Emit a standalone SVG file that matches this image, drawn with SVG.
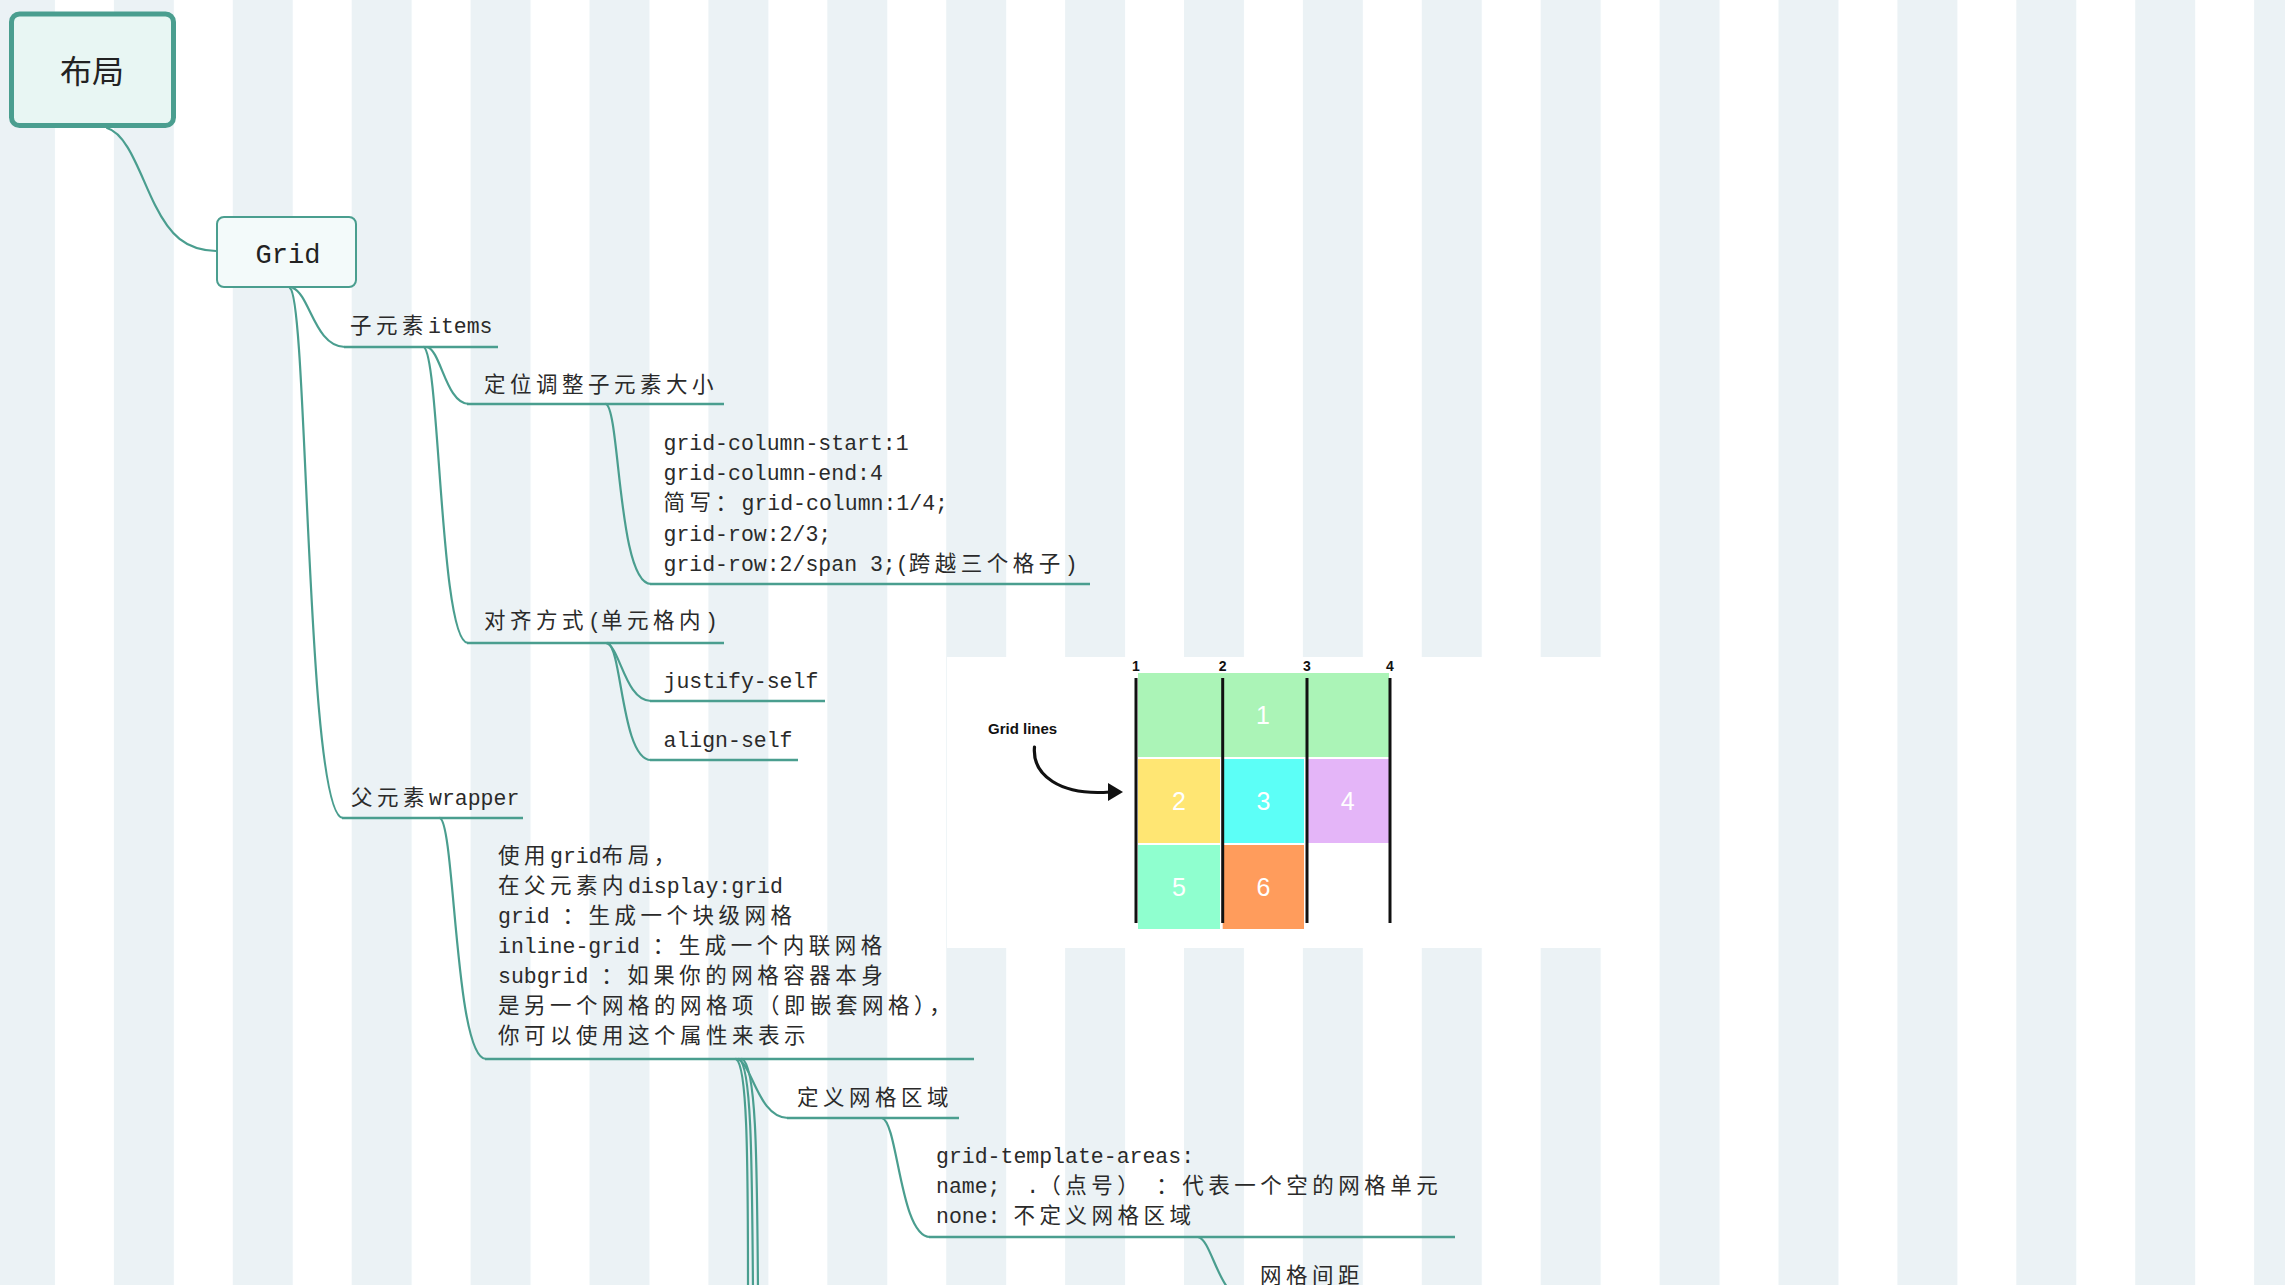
<svg xmlns="http://www.w3.org/2000/svg" width="2285" height="1285" viewBox="0 0 2285 1285">
<defs>
<pattern id="stripes" x="-5" y="0" width="118.9" height="1285" patternUnits="userSpaceOnUse">
<rect x="0" y="0" width="60" height="1285" fill="#ebf2f5"/>
</pattern>
<style>
.t{font-family:"Liberation Mono","Noto Sans CJK SC",monospace;font-size:21.5px;fill:#2a2a2a}
.c{letter-spacing:4.5px}
.ln{fill:none;stroke:#4a9e8f;stroke-width:2.2;stroke-linecap:round}
.ul{fill:none;stroke:#4a9e8f;stroke-width:2.5}
.gl{fill:none;stroke:#111;stroke-width:3}
.num{font-family:"Liberation Sans",Arial,sans-serif;font-weight:bold;font-size:14px;fill:#111;text-anchor:middle}
.cell{font-family:"Liberation Sans",Arial,sans-serif;font-size:25px;fill:#fff;text-anchor:middle}
</style>
</defs>
<rect width="2285" height="1285" fill="#ffffff"/>
<rect width="2285" height="1285" fill="url(#stripes)"/>

<g id="connectors">
<path class="ln" d="M107,128 C128,134 140,175 155,205 C170,235 185,250 216,251"/>
<path class="ln" d="M293,288 C310,295 315,347 345,347"/>
<path class="ln" d="M290,288 C308,300 306,818 343,818"/>
<path class="ln" d="M427,347 C441,350 446,404 469,404"/>
<path class="ln" d="M424,347 C440,360 440,643 468,643"/>
<path class="ln" d="M606,404 C620,410 618,584 651,584"/>
<path class="ln" d="M606,643 C620,646 625,701 651,701"/>
<path class="ln" d="M608,643 C622,650 622,760 651,760"/>
<path class="ln" d="M440,818 C455,825 455,1059 486,1059"/>
<path class="ln" d="M737,1059 C752,1062 758,1118 788,1118"/>
<path class="ln" d="M736,1059 C747,1065 748,1150 748,1292"/>
<path class="ln" d="M739,1059 C751,1065 752,1150 753,1292"/>
<path class="ln" d="M742,1059 C756,1065 757,1150 758,1292"/>
<path class="ln" d="M882,1118 C898,1122 900,1237 930,1237"/>
<path class="ln" d="M1198,1237 C1213,1240 1218,1300 1250,1302"/>
</g>

<g id="node-root">
<rect x="11.5" y="14" width="162" height="111.5" rx="8" fill="#e8f6f3" stroke="#4a9e8f" stroke-width="5"/>
<text x="92" y="83" font-family="'Noto Sans CJK SC',sans-serif" font-size="32" fill="#222" text-anchor="middle">布局</text>
</g>

<g id="node-grid">
<rect x="217" y="217" width="139" height="70" rx="7" fill="#f3fafa" stroke="#4a9e8f" stroke-width="2"/>
<text x="288" y="263" font-family="'Liberation Mono',monospace" font-size="27" fill="#222" text-anchor="middle">Grid</text>
</g>

<g id="node-items">
<text class="t" x="350" y="333"><tspan class="c">子元素</tspan>items</text>
<line class="ul" x1="344" y1="347" x2="498" y2="347"/>
</g>

<g id="node-position">
<text class="t" x="484" y="392"><tspan class="c">定位调整子元素大小</tspan></text>
<line class="ul" x1="467" y1="404" x2="724" y2="404"/>
</g>

<g id="node-position-detail">
<text class="t" x="663.5" y="450">grid-column-start:1</text>
<text class="t" x="663.5" y="480">grid-column-end:4</text>
<text class="t" x="663.5" y="510"><tspan class="c">简写：</tspan>grid-column:1/4;</text>
<text class="t" x="663.5" y="541">grid-row:2/3;</text>
<text class="t" x="663.5" y="571">grid-row:2/span 3;(<tspan class="c">跨越三个格子</tspan>)</text>
<line class="ul" x1="650" y1="584" x2="1090" y2="584"/>
</g>

<g id="node-align">
<text class="t" x="484" y="628"><tspan class="c">对齐方式</tspan>(<tspan class="c">单元格内</tspan>)</text>
<line class="ul" x1="467" y1="643" x2="724" y2="643"/>
</g>

<g id="node-justify-self">
<text class="t" x="663.5" y="688">justify-self</text>
<line class="ul" x1="650" y1="701" x2="825" y2="701"/>
</g>

<g id="node-align-self">
<text class="t" x="663.5" y="747">align-self</text>
<line class="ul" x1="650" y1="760" x2="798" y2="760"/>
</g>

<g id="node-wrapper">
<text class="t" x="351" y="805"><tspan class="c">父元素</tspan>wrapper</text>
<line class="ul" x1="342" y1="818" x2="523" y2="818"/>
</g>

<g id="node-wrapper-detail">
<text class="t" x="498" y="863"><tspan class="c">使用</tspan>grid<tspan class="c">布局，</tspan></text>
<text class="t" x="498" y="893"><tspan class="c">在父元素内</tspan>display:grid</text>
<text class="t" x="498" y="923">grid <tspan class="c">：生成一个块级网格</tspan></text>
<text class="t" x="498" y="953">inline-grid <tspan class="c">：生成一个内联网格</tspan></text>
<text class="t" x="498" y="983">subgrid <tspan class="c">：如果你的网格容器本身</tspan></text>
<text class="t" x="498" y="1013"><tspan class="c">是另一个网格的网格项（即嵌套网格），</tspan></text>
<text class="t" x="498" y="1043"><tspan class="c">你可以使用这个属性来表示</tspan></text>
<line class="ul" x1="485" y1="1059" x2="974" y2="1059"/>
</g>

<g id="node-areas">
<text class="t" x="797" y="1105"><tspan class="c">定义网格区域</tspan></text>
<line class="ul" x1="787" y1="1118" x2="959" y2="1118"/>
</g>

<g id="node-areas-detail">
<text class="t" x="936" y="1163">grid-template-areas:</text>
<text class="t" x="936" y="1193">name;&#160;&#160;.<tspan class="c">（点号）</tspan> <tspan class="c">：代表一个空的网格单元</tspan></text>
<text class="t" x="936" y="1223">none: <tspan class="c">不定义网格区域</tspan></text>
<line class="ul" x1="929" y1="1237" x2="1455" y2="1237"/>
</g>

<g id="node-gap">
<text class="t" x="1260" y="1283"><tspan class="c">网格间距</tspan></text>
</g>

<g id="node-image">
<rect x="947" y="657" width="656" height="291" fill="#ffffff"/>
<rect x="1138" y="673" width="251" height="84" fill="#abf4b7"/>
<rect x="1138" y="759" width="82" height="84" fill="#ffe673"/>
<rect x="1222.7" y="759" width="81.3" height="84" fill="#5cfff7"/>
<rect x="1307.7" y="759" width="81.3" height="84" fill="#e4b5f8"/>
<rect x="1138" y="845" width="82" height="84" fill="#8fffcf"/>
<rect x="1222.7" y="845" width="81.3" height="84" fill="#ff9c5c"/>
<text class="cell" x="1263" y="724">1</text>
<text class="cell" x="1179" y="810">2</text>
<text class="cell" x="1263.5" y="810">3</text>
<text class="cell" x="1347.6" y="810">4</text>
<text class="cell" x="1179" y="896">5</text>
<text class="cell" x="1263.5" y="896">6</text>
<line class="gl" x1="1136" y1="678" x2="1136" y2="923"/>
<line class="gl" x1="1222.7" y1="678" x2="1222.7" y2="923"/>
<line class="gl" x1="1307" y1="678" x2="1307" y2="923"/>
<line class="gl" x1="1390" y1="678" x2="1390" y2="923"/>
<text class="num" x="1136" y="671">1</text>
<text class="num" x="1222.7" y="671">2</text>
<text class="num" x="1307" y="671">3</text>
<text class="num" x="1390" y="671">4</text>
<text x="988" y="734" font-family="'Liberation Sans',Arial,sans-serif" font-weight="bold" font-size="15" fill="#111">Grid lines</text>
<path d="M1034.5,747 C1032,775 1060,796 1110,792" fill="none" stroke="#111" stroke-width="3.2" stroke-linecap="round"/>
<path d="M1108,783 L1123,792 L1108,801 Z" fill="#111"/>
</g>
</svg>
